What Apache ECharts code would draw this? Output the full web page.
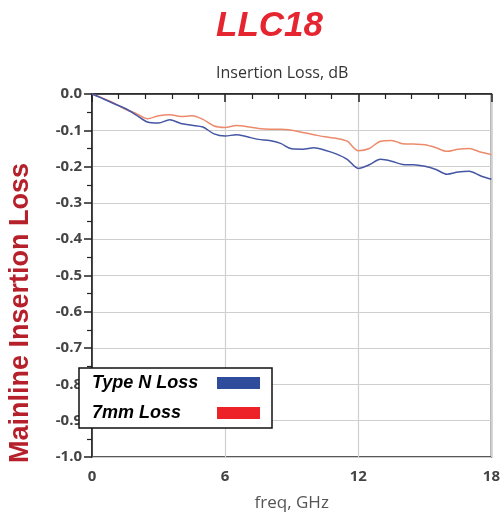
<!DOCTYPE html>
<html><head><meta charset="utf-8">
<script src="https://cdn.jsdelivr.net/npm/echarts@6/dist/echarts.min.js"></script>
<style>html,body{margin:0;padding:0;background:#fff}#c{width:503px;height:523px}</style>
</head><body><div id="c"></div>
<script>
const freq = [0,0.5,1,1.5,2,2.5,3,3.5,4,4.5,5,5.5,6,6.5,7,7.5,8,8.5,9,9.5,10,10.5,11,11.5,12,12.5,13,13.5,14,14.5,15,15.5,16,16.5,17,17.5,18];
const typeNLoss = [0,-0.013,-0.027,-0.040,-0.058,-0.077,-0.080,-0.071,-0.081,-0.086,-0.091,-0.110,-0.116,-0.112,-0.118,-0.125,-0.128,-0.136,-0.151,-0.152,-0.148,-0.155,-0.165,-0.180,-0.205,-0.195,-0.180,-0.185,-0.194,-0.195,-0.199,-0.208,-0.221,-0.215,-0.213,-0.225,-0.235];
const mm7Loss = [0,-0.012,-0.025,-0.042,-0.054,-0.068,-0.060,-0.057,-0.062,-0.060,-0.070,-0.088,-0.092,-0.087,-0.090,-0.095,-0.097,-0.097,-0.100,-0.106,-0.112,-0.118,-0.122,-0.130,-0.156,-0.150,-0.130,-0.128,-0.137,-0.138,-0.140,-0.148,-0.158,-0.152,-0.150,-0.160,-0.167];
const seriesNames = ['Type N Loss','7mm Loss'];
const xTicks = {min:0, max:18, interval:6};
const yTicks = {min:-1, max:0, interval:0.1};

const chart = echarts.init(document.getElementById('c'));
const labelStyle = {color:'#444', fontFamily:'Open Sans', fontWeight:'bold', fontSize:15};
chart.setOption({
  animation:false,
  title:[
    {text:'LLC18', top:4, left:211, textStyle:{color:'#e52530', fontFamily:'Liberation Sans', fontStyle:'italic', fontWeight:'bold', fontSize:35}},
    {text:'Insertion Loss, dB', top:60, left:211, textStyle:{color:'#333', fontFamily:'Open Sans', fontWeight:'normal', fontSize:16}}
  ],
  grid:{left:92, right:11.5, top:94, bottom:66, show:true, borderColor:'#222', borderWidth:1.5},
  legend:{
    orient:'vertical', left:79, top:368, align:'right',
    backgroundColor:'#fff', borderColor:'#111', borderWidth:1.5,
    padding:[5,12,5,13], itemGap:10, itemWidth:43, itemHeight:12,
    formatter:n=>'{t|'+n+'}',
    textStyle:{
      rich:{t:{color:'#000', fontFamily:'Liberation Sans', fontStyle:'italic', fontWeight:'bold', fontSize:18, width:120, height:20, lineHeight:20, align:'left'}}
    },
    data:[
      {name:seriesNames[0], icon:'rect', itemStyle:{color:'#2f4b9c'}},
      {name:seriesNames[1], icon:'rect', itemStyle:{color:'#ed2228'}}
    ]
  },
  xAxis:{
    type:'value', min:xTicks.min, max:xTicks.max, interval:xTicks.interval,
    name:'freq, GHz', nameLocation:'middle', nameGap:38,
    nameTextStyle:{color:'#555', fontFamily:'Open Sans', fontSize:17},
    axisLine:{show:true, lineStyle:{color:'#222', width:1.5}},
    axisTick:{show:true, length:8, lineStyle:{color:'#222', width:1.5}},
    minorTick:{show:true, splitNumber:5, length:5, lineStyle:{color:'#222', width:1.2}},
    axisLabel:Object.assign({margin:12}, labelStyle),
    splitLine:{show:true, lineStyle:{color:'#cfcfcf', width:1.2}}
  },
  yAxis:{
    type:'value', min:yTicks.min, max:yTicks.max, interval:yTicks.interval,
    axisLine:{show:true, lineStyle:{color:'#222', width:1.5}},
    axisTick:{show:true, length:8, lineStyle:{color:'#222', width:1.5}},
    minorTick:{show:true, splitNumber:2, length:5, lineStyle:{color:'#222', width:1.2}},
    axisLabel:Object.assign({margin:10, formatter:v=>v.toFixed(1)}, labelStyle),
    splitLine:{show:true, lineStyle:{color:'#cfcfcf', width:1.2}}
  },
  graphic:[{
    type:'text', x:21, y:313, rotation:Math.PI/2, z:10,
    style:{text:'Mainline Insertion Loss', fill:'#b5202a', font:'bold 27px "Liberation Sans"', textAlign:'center', textVerticalAlign:'middle'}
  }],
  series:[
    {name:seriesNames[0], type:'line', showSymbol:false, smooth:0.3, data:freq.map((f,i)=>[f,typeNLoss[i]]), lineStyle:{color:'#4556a3', width:1.5}, itemStyle:{color:'#2f4b9c'}, z:3},
    {name:seriesNames[1], type:'line', showSymbol:false, smooth:0.3, data:freq.map((f,i)=>[f,mm7Loss[i]]), lineStyle:{color:'#ec8a6c', width:1.5}, itemStyle:{color:'#ed2228'}, z:2}
  ]
});
</script></body></html>
